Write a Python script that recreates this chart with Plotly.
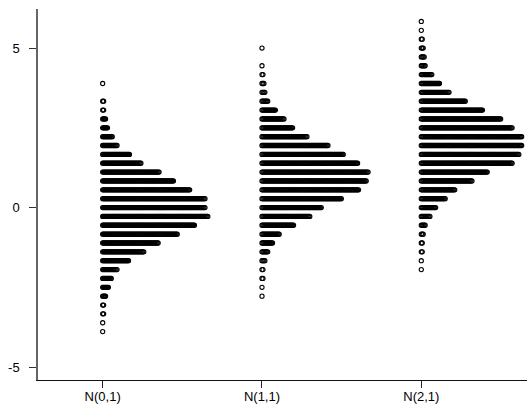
import plotly.graph_objects as go

# Shared bin centres (value axis)
bins = [-3.880, -3.603, -3.325, -3.048, -2.770, -2.493, -2.215, -1.938, -1.660,
        -1.383, -1.105, -0.828, -0.550, -0.273, 0.005, 0.283, 0.560, 0.838,
        1.115, 1.393, 1.670, 1.948, 2.225, 2.503, 2.780, 3.058, 3.335, 3.613,
        3.890, 4.168, 4.445, 4.723, 5.000, 5.278, 5.555, 5.833]

categories = ["N(0,1)", "N(1,1)", "N(2,1)"]

counts_n01 = [1, 1, 2, 2, 4, 7, 10, 16, 28, 44, 59, 79, 97, 111, 108, 108, 92, 75,
              60, 41, 29, 16, 11, 6, 4, 2, 2, 0, 1, 0, 0, 0, 0, 0, 0, 0]
counts_n11 = [0, 0, 0, 0, 1, 1, 2, 2, 4, 7, 12, 19, 34, 51, 63, 84, 102, 110,
              112, 101, 86, 70, 48, 33, 24, 15, 7, 4, 3, 2, 1, 0, 1, 0, 0, 0]
counts_n21 = [0, 0, 0, 0, 0, 0, 0, 1, 1, 2, 2, 3, 5, 10, 16, 26, 36, 54,
              70, 96, 103, 106, 106, 96, 84, 65, 47, 30, 20, 12, 5, 4, 3, 2, 1, 1]

y_ticks = [-5, 0, 5]

group_counts = [counts_n01, counts_n11, counts_n21]
dot_step = 0.006  # horizontal spacing between stacked dots (x units)

fig = go.Figure()
for gi, (cat, counts) in enumerate(zip(categories, group_counts)):
    xs, ys = [], []
    for b, c in zip(bins, counts):
        for j in range(c):
            xs.append(gi + 1 + j * dot_step)
            ys.append(b)
    fig.add_trace(go.Scatter(
        x=xs, y=ys, mode="markers", name=cat, showlegend=False,
        marker=dict(symbol="circle-open", size=4.2, color="black",
                    line=dict(width=1.1, color="black")),
        hoverinfo="skip"))

fig.update_layout(
    width=527, height=404,
    margin=dict(l=38, r=0, t=9, b=24),
    plot_bgcolor="white", paper_bgcolor="white",
    font=dict(family="Liberation Sans, Arial, sans-serif", size=13, color="black"),
    showlegend=False,
)
fig.update_xaxes(
    range=[0.594, 3.6635], tickmode="array", tickvals=[1, 2, 3], ticktext=categories,
    showgrid=False, zeroline=False, showline=True, linecolor="#111", linewidth=1,
    ticks="outside", ticklen=7, tickcolor="#222", tickwidth=1,
    tickfont=dict(size=13), automargin=False, ticklabelstandoff=-3,
)
fig.update_yaxes(
    range=[-5.396, 6.223], tickmode="array", tickvals=y_ticks,
    ticktext=[str(v) for v in y_ticks],
    showgrid=False, zeroline=False, showline=True, linecolor="#666", linewidth=1.5,
    ticks="outside", ticklen=7, tickcolor="#333", tickwidth=1,
    tickfont=dict(size=13), automargin=False, ticklabelstandoff=7,
)

fig.write_html("out.html")
